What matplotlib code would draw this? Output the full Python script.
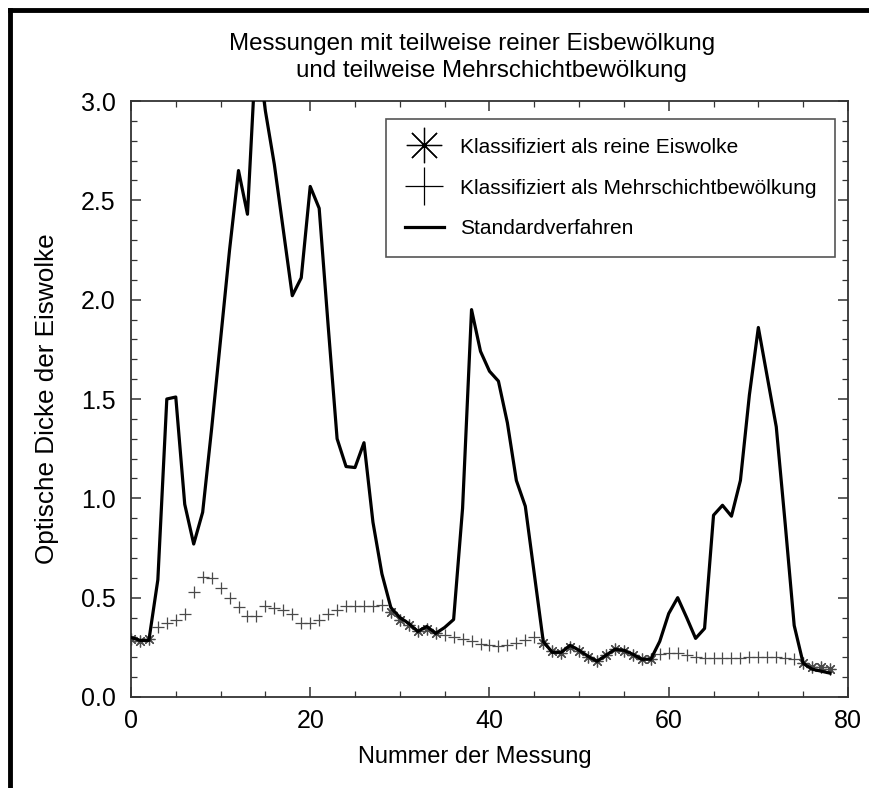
import numpy as np
import matplotlib
matplotlib.use("Agg")
import matplotlib.pyplot as plt
from matplotlib.lines import Line2D
from matplotlib.ticker import MultipleLocator

plt.rcParams['font.family'] = ['Liberation Sans', 'DejaVu Sans']

# Nummer der Messung
nummer = np.arange(79)

# Optische Dicke nach dem Standardverfahren
standard = [0.30, 0.285, 0.285, 0.59, 1.50, 1.51, 0.97, 0.77, 0.93, 1.35,
            1.80, 2.25, 2.65, 2.43, 3.30, 2.95, 2.68, 2.35, 2.02, 2.11,
            2.57, 2.46, 1.87, 1.30, 1.16, 1.155, 1.28, 0.88, 0.62, 0.45,
            0.40, 0.37, 0.33, 0.355, 0.32, 0.35, 0.39, 0.95, 1.95, 1.74,
            1.64, 1.59, 1.38, 1.09, 0.96, 0.62, 0.28, 0.225, 0.225, 0.26,
            0.235, 0.205, 0.18, 0.21, 0.24, 0.235, 0.215, 0.19, 0.19, 0.28,
            0.42, 0.50, 0.40, 0.295, 0.345, 0.915, 0.965, 0.91, 1.09, 1.52,
            1.86, 1.61, 1.36, 0.87, 0.36, 0.17, 0.14, 0.13, 0.12]

# als reine Eiswolke klassifiziert
eis_nr = [0, 1, 2,
          29, 30, 31, 32, 33, 34,
          46, 47, 48, 49, 50, 51, 52, 53, 54, 55, 56, 57, 58,
          75, 76, 77, 78]
eis_wert = [0.29, 0.28, 0.29,
            0.43, 0.39, 0.36, 0.33, 0.34, 0.32,
            0.27, 0.23, 0.22, 0.25, 0.23, 0.20, 0.18, 0.21, 0.24, 0.23, 0.21, 0.19, 0.19,
            0.17, 0.15, 0.15, 0.14]

# als Mehrschichtbewoelkung klassifiziert
mehr_nr = [3, 4, 5, 6, 7, 8, 9, 10, 11, 12, 13, 14, 15, 16, 17, 18, 19, 20,
           21, 22, 23, 24, 25, 26, 27, 28,
           35, 36, 37, 38, 39, 40, 41, 42, 43, 44, 45,
           59, 60, 61, 62, 63, 64, 65, 66, 67, 68, 69, 70, 71, 72, 73, 74]
mehr_wert = [0.35, 0.37, 0.39, 0.42, 0.53, 0.605, 0.60, 0.55, 0.50, 0.455,
             0.41, 0.41, 0.46, 0.45, 0.44, 0.42, 0.37, 0.37, 0.39, 0.42,
             0.44, 0.46, 0.46, 0.46, 0.46, 0.465,
             0.31, 0.30, 0.29, 0.28, 0.265, 0.26, 0.255, 0.26, 0.27, 0.285, 0.30,
             0.215, 0.22, 0.22, 0.21, 0.20, 0.195, 0.195, 0.195, 0.195, 0.195,
             0.20, 0.20, 0.20, 0.20, 0.195, 0.19]

fig = plt.figure(figsize=(8.69, 7.88), dpi=100)
ax = fig.add_axes([0.1507, 0.1155, 0.8251, 0.7563])

mcol = '#4a4a4a'
ax.plot(eis_nr, eis_wert, ls='none', marker=(8, 2, 0), ms=8.5, mew=0.9,
        color=mcol, label='Klassifiziert als reine Eiswolke', zorder=2)
ax.plot(mehr_nr, mehr_wert, ls='none', marker='+', ms=9, mew=0.9,
        color=mcol, label='Klassifiziert als Mehrschichtbewölkung', zorder=2)
ax.plot(nummer, standard, color='black', lw=2.3,
        label='Standardverfahren', zorder=3)

ax.set_xlim(0, 80)
ax.set_ylim(0, 3.0)
ax.xaxis.set_major_locator(MultipleLocator(20))
ax.xaxis.set_minor_locator(MultipleLocator(5))
ax.yaxis.set_major_locator(MultipleLocator(0.5))
ax.yaxis.set_minor_locator(MultipleLocator(0.1))
ax.yaxis.set_major_formatter(plt.FormatStrFormatter('%.1f'))
ax.tick_params(which='both', direction='in', top=True, right=True,
               color='#333333', labelsize=18)
ax.tick_params(which='major', length=7, width=1.1)
ax.tick_params(which='minor', length=4, width=0.9)
ax.tick_params(axis='y', pad=11)
ax.tick_params(axis='x', pad=9)
for s in ax.spines.values():
    s.set_color('#333333')
    s.set_linewidth(1.3)

ax.set_xlabel('Nummer der Messung', fontsize=17)
ax.set_ylabel('Optische Dicke der Eiswolke', fontsize=18.8)
ax.xaxis.set_label_coords(0.48, -0.082)
ax.yaxis.set_label_coords(-0.10, 0.5)

fig.text(0.543, 0.944, 'Messungen mit teilweise reiner Eisbewölkung',
         ha='center', va='center', fontsize=17.4)
fig.text(0.566, 0.910, 'und teilweise Mehrschichtbewölkung',
         ha='center', va='center', fontsize=17.4)

leg = ax.legend(loc='upper right', bbox_to_anchor=(0.982, 0.970),
                borderaxespad=0, fontsize=15, markerscale=3.0,
                handlelength=1.9, handletextpad=0.75, labelspacing=1.05,
                borderpad=0.9, fancybox=False, framealpha=1)
leg.get_frame().set_edgecolor('#555555')
leg.get_frame().set_linewidth(1.2)
for h in leg.legend_handles:
    h.set_color('black')

# Rahmen oben und links
fig.add_artist(Line2D([10 / 869, 1], [1 - 10 / 788] * 2,
                      transform=fig.transFigure, color='black', lw=3.5))
fig.add_artist(Line2D([10 / 869] * 2, [0, 1 - 10 / 788],
                      transform=fig.transFigure, color='black', lw=3.5))

fig.savefig('out.png', dpi=100)
